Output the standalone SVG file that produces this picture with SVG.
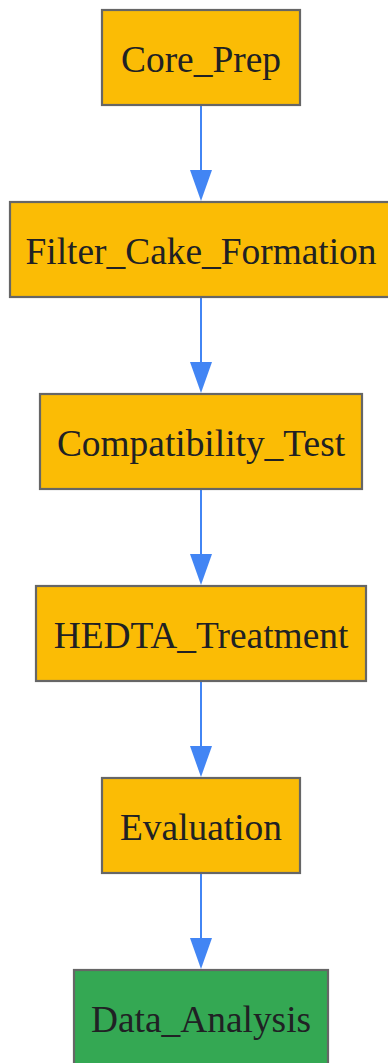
<svg xmlns="http://www.w3.org/2000/svg" width="388" height="1063" viewBox="0 0 388 1063">
<style>
.n rect{fill:#FBBC05;stroke:#666666;stroke-width:2.2}
.n.g rect{fill:#34A853}
.n text{font-family:"Liberation Serif","Times New Roman",serif;font-size:37.4px;fill:#202124;text-anchor:middle}
.e line{stroke:#4285F4;stroke-width:2}
.e polygon{fill:#4285F4}
</style>
<rect width="388" height="1063" fill="#ffffff"/>
<g id="edges" class="e">
<line x1="201" y1="106" x2="201" y2="171"/><polygon points="190,170 212,170 201,201"/>
<line x1="201" y1="298" x2="201" y2="363"/><polygon points="190,362 212,362 201,393"/>
<line x1="201" y1="490" x2="201" y2="555"/><polygon points="190,554 212,554 201,585"/>
<line x1="201" y1="682" x2="201" y2="747"/><polygon points="190,746 212,746 201,777"/>
<line x1="201" y1="874" x2="201" y2="939"/><polygon points="190,938 212,938 201,969"/>
</g>
<g id="Core_Prep" class="n"><rect x="102" y="10" width="198" height="95"/><text x="201" y="72">Core_Prep</text></g>
<g id="Filter_Cake_Formation" class="n"><rect x="10" y="202" width="382" height="95"/><text x="201" y="264">Filter_Cake_Formation</text></g>
<g id="Compatibility_Test" class="n"><rect x="40" y="394" width="322" height="95"/><text x="201" y="456">Compatibility_Test</text></g>
<g id="HEDTA_Treatment" class="n"><rect x="36" y="586" width="330" height="95"/><text x="201" y="648">HEDTA_Treatment</text></g>
<g id="Evaluation" class="n"><rect x="102" y="778" width="198" height="95"/><text x="201" y="840">Evaluation</text></g>
<g id="Data_Analysis" class="n g"><rect x="74" y="970" width="254" height="95"/><text x="201" y="1032">Data_Analysis</text></g>
</svg>
